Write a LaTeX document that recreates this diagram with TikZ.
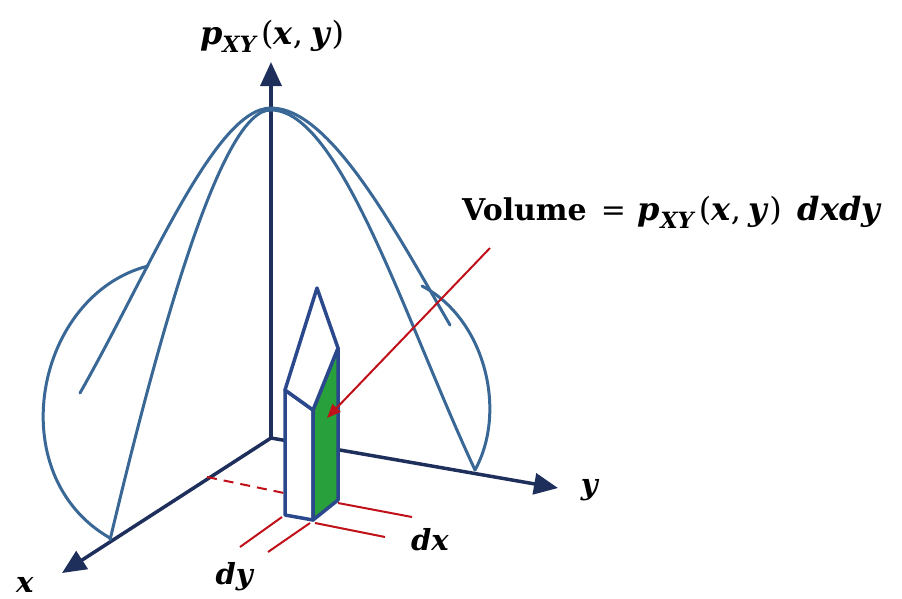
\documentclass[tikz,border=0pt]{standalone}
\usepackage{fontspec}
\setmainfont{DejaVu Serif}
\usetikzlibrary{arrows.meta}
\definecolor{axisblue}{RGB}{31,47,92}
\definecolor{curveblue}{RGB}{58,104,150}
\definecolor{barblue}{RGB}{44,72,140}
\definecolor{bargreen}{RGB}{40,160,60}
\definecolor{markred}{RGB}{192,16,26}
\newcommand{\bi}[1]{\textbf{\textit{#1}}}
\newcommand{\pxy}{{\fontsize{32}{36}\selectfont\bi{p}\textsubscript{\bi{XY}}\hspace{3pt}(\bi{x},\hspace{8pt}\bi{y})}}
\tikzset{
  axis/.style={axisblue, line width=3.5pt, -{Triangle[length=24pt,width=21pt]}},
  bell/.style={curveblue, line width=3pt, line cap=round},
  bar/.style={barblue, line width=3.5pt, line join=round},
  redline/.style={markred, line width=2pt},
  lbl/.style={inner sep=0pt, font=\fontsize{29}{34}\selectfont},
}
\begin{document}
\begin{tikzpicture}[x=1pt, y=-1pt]
  \useasboundingbox (0,0) rectangle (902,598);
  % Axes
  \coordinate (O) at (271,438);
  \coordinate (ztip) at (271,62);
  \coordinate (xtip) at (62,573);
  \coordinate (ytip) at (558,488);
  \draw[axis] (O) -- (ztip);
  \draw[axis] (O) -- (xtip);
  \draw[axis] (O) -- (ytip);
  % Bell curves
  \draw[bell] (80,393) .. controls (150,270) and (215,108) .. (271,108)
              .. controls (330,108) and (395,230) .. (450,325);
  \draw[bell] (110,540) .. controls (160,330) and (222,108) .. (271,110)
              .. controls (340,110) and (405,320) .. (475,470);
  % Base contours
  \draw[bell] (148,266) .. controls (35,295) and (0,475) .. (110,538);
  \draw[bell] (422,286) .. controls (484,318) and (508,410) .. (475,470);
  % Red marks on the base
  \coordinate (dshA) at (207,477);
  \coordinate (dshB) at (284,493);
  \draw[redline, dash pattern=on 10pt off 7pt] (dshA) -- (dshB);
  \coordinate (dyA1) at (282,517); \coordinate (dyA2) at (240,547);
  \coordinate (dyB1) at (310,523); \coordinate (dyB2) at (268,552);
  \coordinate (dxA1) at (338,503); \coordinate (dxA2) at (412,517);
  \coordinate (dxB1) at (315,523); \coordinate (dxB2) at (385,537);
  \draw[redline] (dyA1) -- (dyA2);
  \draw[redline] (dyB1) -- (dyB2);
  \draw[redline] (dxA1) -- (dxA2);
  \draw[redline] (dxB1) -- (dxB2);
  % Column
  \coordinate (apex) at (317,288);
  \coordinate (rtop) at (338,348);
  \coordinate (ltop) at (285,390);
  \coordinate (ftop) at (313,410);
  \coordinate (rbot) at (338,500);
  \coordinate (fbot) at (313,520);
  \coordinate (lbot) at (285,515);
  \filldraw[bar, fill=white] (ltop) -- (ftop) -- (fbot) -- (lbot) -- cycle;
  \filldraw[bar, fill=bargreen] (ftop) -- (rtop) -- (rbot) -- (fbot) -- cycle;
  \filldraw[bar, fill=white] (ltop) -- (apex) -- (rtop) -- (ftop) -- cycle;
  % Pointer
  \coordinate (ptA) at (490,248);
  \coordinate (ptB) at (327,418);
  \draw[redline, -{Triangle[length=14pt,width=11pt]}] (ptA) -- (ptB);
  % Labels
  \node[lbl] (zlabel) at (272,36) {\pxy};
  \node[lbl, anchor=west, font=\fontsize{30}{34}\selectfont] (vol) at (462,212) {\textbf{Volume}\hspace{14pt}=\hspace{12pt}\pxy\hspace{16pt}{\fontsize{32}{36}\selectfont\bi{dxdy}}};
  \node[lbl] (xlabel) at (25,585) {\bi{x}};
  \node[lbl] (ylabel) at (590,490) {\bi{y}};
  \node[lbl] (dxlabel) at (430,540) {\bi{dx}};
  \node[lbl] (dylabel) at (235,577) {\bi{dy}};
\end{tikzpicture}
\end{document}
